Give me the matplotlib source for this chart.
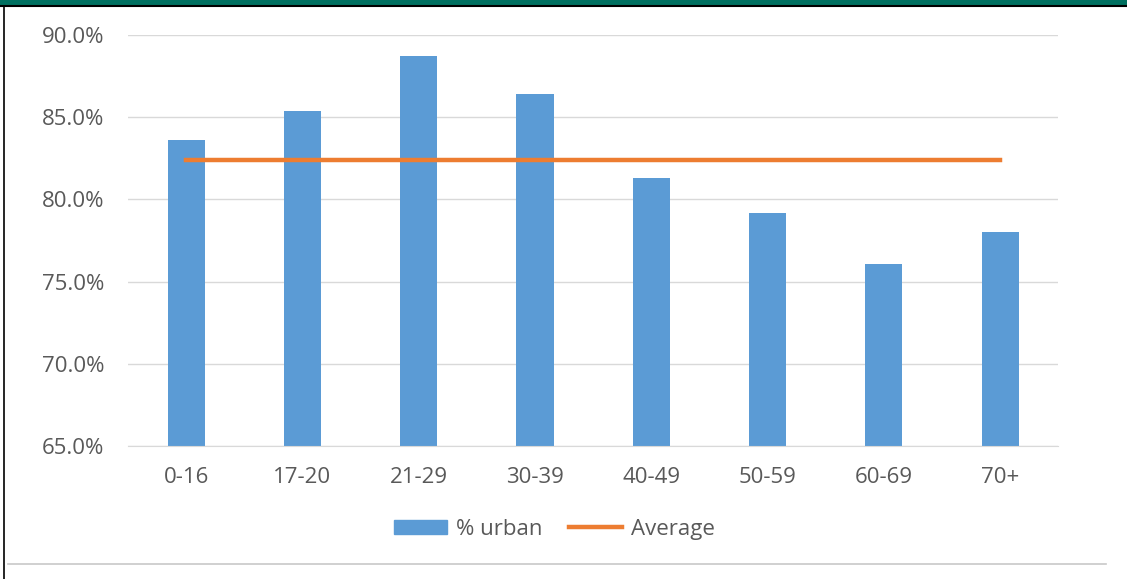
import numpy as np
import matplotlib.pyplot as plt
from matplotlib.lines import Line2D
from matplotlib.patches import Rectangle

categories = ['0-16', '17-20', '21-29', '30-39', '40-49', '50-59', '60-69', '70+']
pct_urban = [83.6, 85.4, 88.7, 86.4, 81.3, 79.2, 76.1, 78.0]
average = [82.4] * len(categories)

plt.rcParams['font.family'] = ['Open Sans', 'DejaVu Sans']
txt_col = '#595959'

fig = plt.figure(figsize=(11.27, 5.79), dpi=100)
ax = fig.add_axes([0.1136, 0.2297, 0.8254, 0.7099])

x = np.arange(len(categories))
ax.bar(x, pct_urban, width=0.32, color='#5B9BD5', label='% urban', zorder=2)
ax.plot(x, average, color='#ED7D31', lw=3.2, label='Average', zorder=3)

ax.set_xlim(-0.5, len(categories) - 0.5)
ax.set_ylim(65, 90)
ax.set_yticks(np.arange(65, 90.1, 5))
ax.set_yticklabels(['%.1f%%' % v for v in np.arange(65, 90.1, 5)])
ax.set_xticks(x)
ax.set_xticklabels(categories)
ax.tick_params(axis='both', length=0, labelsize=16, colors=txt_col)
ax.tick_params(axis='y', pad=17)
ax.tick_params(axis='x', pad=15)
ax.yaxis.grid(True, color='#D9D9D9', lw=1, zorder=0)
for s in ['top', 'right', 'left']:
    ax.spines[s].set_visible(False)
ax.spines['bottom'].set_color('#D9D9D9')

handles = [Rectangle((0, 0), 1, 1, color='#5B9BD5'),
           Line2D([0], [0], color='#ED7D31', lw=3.2)]
fig.legend(handles, ['% urban', 'Average'], loc='center', bbox_to_anchor=(0.492, 0.086),
           ncol=2, frameon=False, fontsize=16, labelcolor=txt_col,
           handlelength=2.4, handleheight=0.6, handletextpad=0.4, columnspacing=1.2)

# frame decorations
fig.add_artist(Rectangle((0, 0.9914), 1, 0.0086, transform=fig.transFigure,
                         color='#007060', lw=0))
fig.add_artist(Line2D([0, 1], [0.9905, 0.9905], transform=fig.transFigure, color='black', lw=1.5))
fig.add_artist(Line2D([0.0035, 0.0035], [0, 0.99], transform=fig.transFigure, color='black', lw=1.2))
fig.add_artist(Line2D([0.007, 0.981], [0.026, 0.026], transform=fig.transFigure, color='#C8C8C8', lw=1.2))

fig.savefig('out.png', dpi=100)
